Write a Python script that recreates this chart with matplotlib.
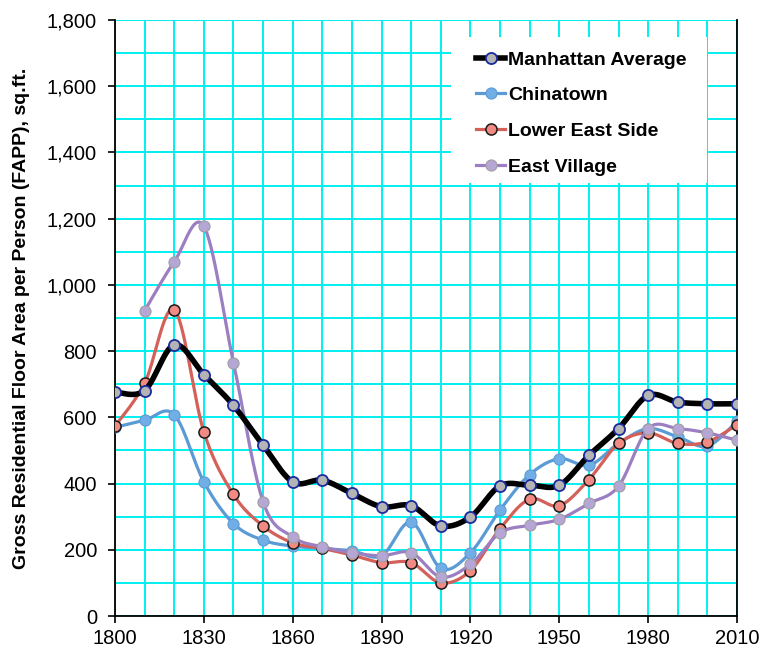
import numpy as np
import matplotlib
matplotlib.use("Agg")
import matplotlib.pyplot as plt
from matplotlib.ticker import FuncFormatter, MultipleLocator
from matplotlib.lines import Line2D
from matplotlib.patches import Rectangle

plt.rcParams['font.family'] = ['Liberation Sans', 'DejaVu Sans']

years = list(range(1800, 2011, 10))
manhattan = [676, 681, 819, 729, 636, 516, 405, 410, 370, 330, 333, 272, 299,
             393, 395, 395, 485, 566, 666, 646, 641, 641]
chinatown = [570, 591, 608, 405, 279, 229, 211, 204, 197, 182, 284, 144, 191,
             320, 427, 475, 455, 521, 566, 541, 513, 588]
les = [573, 703, 925, 556, 367, 272, 221, 204, 184, 161, 161, 100, 137,
       264, 353, 333, 412, 521, 553, 521, 526, 578]
east_village = [None, 922, 1070, 1177, 765, 345, 239, 209, 191, 182, 191, 118, 156,
                251, 274, 292, 340, 392, 566, 566, 553, 531]
series_names = ["Manhattan Average", "Chinatown", "Lower East Side", "East Village"]


def smooth(xs, ys, n=30):
    pts = [(x, y) for x, y in zip(xs, ys) if y is not None]
    P = np.array(pts, dtype=float)
    out = [P[0]]
    t = np.linspace(0, 1, n)[1:]
    for i in range(len(P) - 1):
        p0 = P[i - 1] if i > 0 else P[i]
        p1 = P[i]
        p2 = P[i + 1]
        p3 = P[i + 2] if i + 2 < len(P) else P[i + 1]
        c1 = p1 + (p2 - p0) / 6.0
        c2 = p2 - (p3 - p1) / 6.0
        for tt in t:
            b = ((1 - tt) ** 3) * p1 + 3 * ((1 - tt) ** 2) * tt * c1 + 3 * (1 - tt) * tt ** 2 * c2 + tt ** 3 * p2
            out.append(b)
    out = np.array(out)
    return out[:, 0], out[:, 1], P[:, 0], P[:, 1]


fig = plt.figure(figsize=(7.62, 6.49), dpi=100)
ax = fig.add_axes([115 / 762, 33 / 649, 622 / 762, 596 / 649])

styles = [
    dict(lc='#000000', lw=4.0, mfc='#b4b4b4', mec='#1b2a9c', mew=1.3, z=6),
    dict(lc='#5b9bd5', lw=2.3, mfc='#72aee6', mec='#5b9bd5', mew=0.8, z=3),
    dict(lc='#d4605a', lw=2.3, mfc='#f08a82', mec='#1a1a1a', mew=1.1, z=4),
    dict(lc='#9b7fc2', lw=2.3, mfc='#b5a6d6', mec='#a0a0a0', mew=0.8, z=5),
]
data = [manhattan, chinatown, les, east_village]

handles = []
for name, vals, st in zip(series_names, data, styles):
    sx, sy, px, py = smooth(years, vals)
    ax.plot(sx, sy, color=st['lc'], lw=st['lw'], zorder=st['z'], solid_capstyle='round')
    ax.plot(px, py, ls='none', marker='o', ms=8, mfc=st['mfc'], mec=st['mec'],
            mew=st['mew'], zorder=st['z'] + 0.5)
    handles.append(Line2D([0], [0], color=st['lc'], lw=st['lw'], marker='o', ms=8,
                          mfc=st['mfc'], mec=st['mec'], mew=st['mew']))

ax.set_xlim(1800, 2010)
ax.set_ylim(0, 1800)
ax.xaxis.set_major_locator(MultipleLocator(30))
ax.xaxis.set_minor_locator(MultipleLocator(10))
ax.yaxis.set_major_locator(MultipleLocator(200))
ax.yaxis.set_minor_locator(MultipleLocator(100))
ax.yaxis.set_major_formatter(FuncFormatter(lambda v, p: f"{int(v):,}"))
ax.grid(which='both', color='#00f0f0', lw=1.4, zorder=0)
ax.set_axisbelow(True)
ax.tick_params(which='major', direction='out', length=5, width=1.2, labelsize=14.5,
               colors='black')
ax.tick_params(which='minor', length=0)
ax.tick_params(axis='y', pad=8)
ax.tick_params(axis='x', pad=4)
ax.spines['top'].set_visible(False)
for s in ('left', 'bottom', 'right'):
    ax.spines[s].set_linewidth(1.3)

ax.set_ylabel("Gross Residential Floor Area per Person (FAPP), sq.ft.",
              fontsize=14, fontweight='bold', labelpad=12)

# legend box
box = Rectangle(((451 - 115) / 622, (616 - 183) / 596), (707 - 451) / 622, (183 - 37) / 596,
                transform=ax.transAxes, facecolor='white', edgecolor='none', zorder=9)
ax.add_patch(box)
leg = ax.legend(handles, series_names, loc='upper left',
                bbox_to_anchor=((476 - 115) / 622, (616 - 51) / 596),
                frameon=False, prop={'weight': 'bold', 'size': 14},
                handlelength=1.5, handletextpad=0.15, labelspacing=0.93,
                borderpad=0, borderaxespad=0)
leg.set_zorder(10)

fig.savefig("out.png", dpi=100)
